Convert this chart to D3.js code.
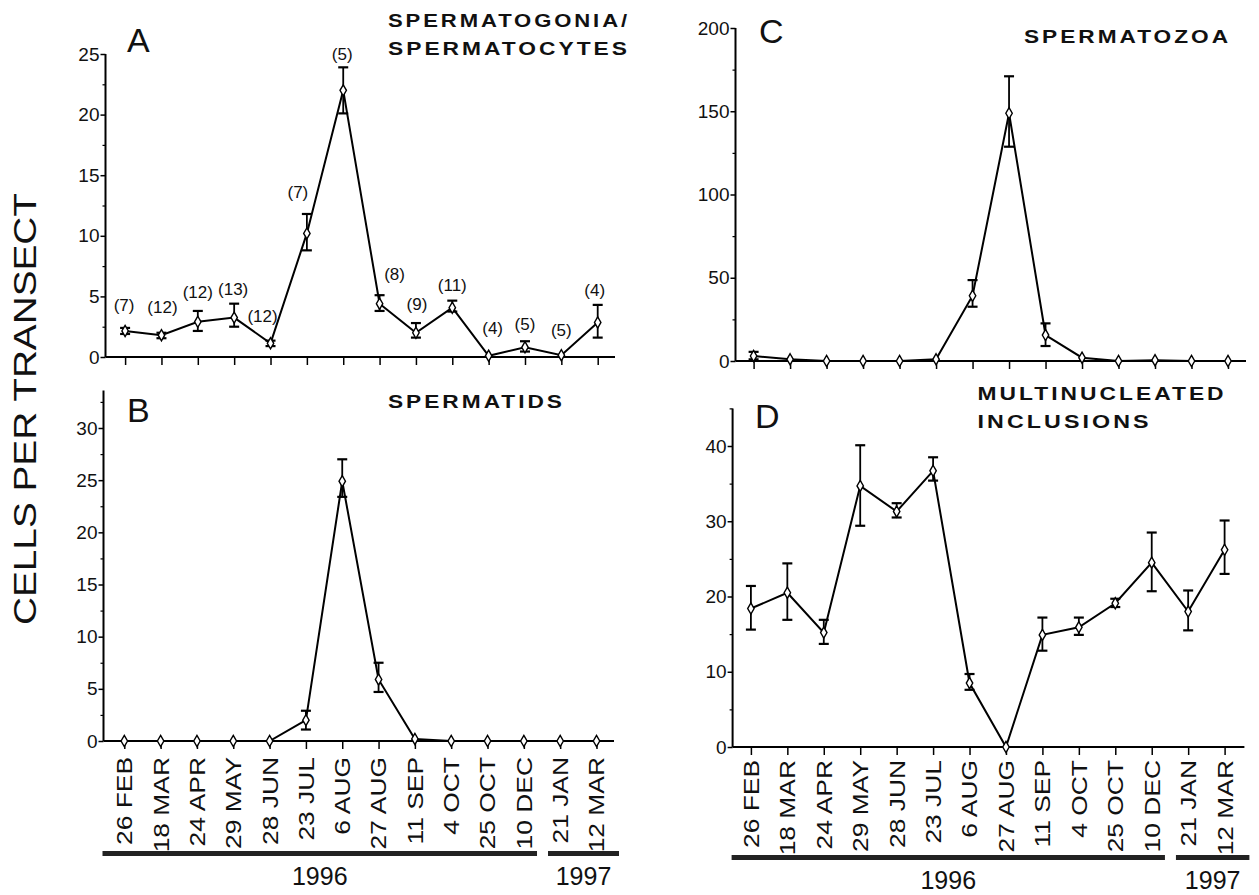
<!DOCTYPE html>
<html><head><meta charset="utf-8">
<script src="https://cdn.jsdelivr.net/npm/d3@7"></script>
<style>
html,body{margin:0;padding:0;background:#fff;}
svg{display:block;font-family:"Liberation Sans",Arial,Helvetica,sans-serif;}
</style></head>
<body>
<svg id="chart" width="1259" height="895"></svg>
<script>
// ---------- data ----------
const dates = ["26 FEB","18 MAR","24 APR","29 MAY","28 JUN","23 JUL","6 AUG","27 AUG","11 SEP","4 OCT","25 OCT","10 DEC","21 JAN","12 MAR"];
const years = ["1996","1997"];
const yearFirst = ["26 FEB","21 JAN"];
const yearLast = ["10 DEC","12 MAR"];

const aMean = [2.15,1.8,2.9,3.25,1.13,10.2,22.0,4.4,2.0,4.07,0.1,0.8,0.15,2.85];
const aHi   = [2.4,2.0,3.8,4.4,1.35,11.8,23.9,5.1,2.8,4.65,0.1,1.3,0.15,4.3];
const aLo   = [1.9,1.55,2.15,2.5,0.9,8.8,20.1,3.8,1.6,3.75,0.1,0.45,0.15,1.6];
const aN    = [7,12,12,13,12,7,5,8,9,11,4,5,5,4];

const bMean = [0,0,0,0,0,2.0,24.9,5.9,0.2,0,0,0,0,0];
const bHi   = [0,0,0,0,0,2.9,27.0,7.5,0.2,0,0,0,0,0];
const bLo   = [0,0,0,0,0,1.1,23.4,4.7,0.2,0,0,0,0,0];

const cMean = [3,1,0,0,0,1,39.2,148.8,15.6,2,0,0.5,0,0];
const cHi   = [5.5,1,0,0,0,1,48.6,171,22.6,2,0,0.5,0,0];
const cLo   = [1,1,0,0,0,1,32.6,128.7,9.0,2,0,0.5,0,0];

const dMean = [18.4,20.5,15.2,34.7,31.3,36.7,8.5,0,14.9,15.9,19.1,24.5,18.0,26.2];
const dHi   = [21.4,24.4,16.9,40.1,32.4,38.5,9.7,0,17.2,17.2,19.7,28.5,20.8,30.1];
const dLo   = [15.6,16.9,13.7,29.4,30.5,35.4,7.6,0,12.8,14.9,18.6,20.7,15.5,23.0];

const aTicks = [0,5,10,15,20,25];
const bTicks = [0,5,10,15,20,25,30];
const cTicks = [0,50,100,150,200];
const dTicks = [0,10,20,30,40];

// ---------- layout ----------
const svg = d3.select("#chart");
const F = '"Liberation Sans",Arial,Helvetica,sans-serif';

const panels = [
  {letter:"A", mean:aMean, hi:aHi, lo:aLo, ticks:aTicks, minor:2.5, top:25,
   yDom:[0,25], yRng:[357,54], xRng:[125.1,597.7], axX:105.5, axEnd:615,
   lx:127, ly:52, title:[["SPERMATOGONIA/",388,27,242],["SPERMATOCYTES",388,55,242]], dateLabels:false},
  {letter:"B", mean:bMean, hi:bHi, lo:bLo, ticks:bTicks, minor:2.5, top:33.6,
   yDom:[0,30], yRng:[741,428], xRng:[124.3,596.5], axX:103.5, axEnd:614,
   lx:127, ly:422, title:[["SPERMATIDS",388,408,177]], dateLabels:true, labTop:757, barY:851, yearY:885},
  {letter:"C", mean:cMean, hi:cHi, lo:cLo, ticks:cTicks, minor:25, top:200,
   yDom:[0,200], yRng:[361,28], xRng:[753.6,1228], axX:735.5, axEnd:1246,
   lx:759, ly:43, title:[["SPERMATOZOA",1024,43,207]], dateLabels:false},
  {letter:"D", mean:dMean, hi:dHi, lo:dLo, ticks:dTicks, minor:5, top:45,
   yDom:[0,40], yRng:[747,446], xRng:[750.9,1224.6], axX:732.6, axEnd:1244.4,
   lx:755, ly:428, title:[["MULTINUCLEATED",977.6,400,249],["INCLUSIONS",977.6,428,174]], dateLabels:true, labTop:760, barY:855, yearY:889}
];

// offsets of (n) labels relative to point in panel A
const nOff = [[-1,-26],[1,-28],[0,-30],[-1,-29],[-8,-27],[-9,-41],[-1,-36],[15,-30],[1,-29],[0,-23],[4,-28],[0,-23],[0,-25],[-3,-32]];

panels.forEach(p => {
  const x = d3.scalePoint().domain(dates).range(p.xRng);
  const y = d3.scaleLinear().domain(p.yDom).range(p.yRng);
  const g = svg.append("g");

  g.append("line").attr("x1",p.axX).attr("x2",p.axX).attr("y1",y(0)).attr("y2",y(p.top))
    .attr("stroke","#000").attr("stroke-width",2);
  g.append("line").attr("x1",p.axX).attr("x2",p.axEnd).attr("y1",y(0)).attr("y2",y(0))
    .attr("stroke","#000").attr("stroke-width",2);

  const ya = d3.axisLeft(y).tickValues(p.ticks).tickSize(5).tickPadding(1).tickFormat(d3.format("d"));
  const yg = g.append("g").attr("transform",`translate(${p.axX},0)`).call(ya);
  yg.select(".domain").remove();
  yg.selectAll("line").attr("stroke","#000").attr("stroke-width",1.5);
  yg.selectAll("text").attr("font-family",F).attr("font-size",19).attr("fill","#111");
  const minorVals = d3.range(p.minor, p.top + 0.001, p.minor*2);
  const ym = d3.axisLeft(y).tickValues(minorVals).tickSize(3).tickFormat("");
  const ymg = g.append("g").attr("transform",`translate(${p.axX},0)`).call(ym);
  ymg.select(".domain").remove();
  ymg.selectAll("line").attr("stroke","#000").attr("stroke-width",1.2);

  const xa = d3.axisBottom(x).tickSize(8).tickFormat("");
  const xg = g.append("g").attr("transform",`translate(0,${y(0)})`).call(xa);
  xg.select(".domain").remove();
  xg.selectAll("line").attr("stroke","#000").attr("stroke-width",1.5);

  const idx = d3.range(dates.length).filter(i => p.hi[i] - p.lo[i] > 0.05 * (p.yDom[1]/25));
  const eb = g.append("g").attr("stroke","#000").attr("stroke-width",1.8);
  idx.forEach(i => {
    const cx = x(dates[i]);
    eb.append("line").attr("x1",cx).attr("x2",cx).attr("y1",y(p.hi[i])).attr("y2",y(p.lo[i]));
    eb.append("line").attr("x1",cx-5).attr("x2",cx+5).attr("y1",y(p.hi[i])).attr("y2",y(p.hi[i])).attr("stroke-width",2.2);
    eb.append("line").attr("x1",cx-5).attr("x2",cx+5).attr("y1",y(p.lo[i])).attr("y2",y(p.lo[i])).attr("stroke-width",2.2);
  });

  const line = d3.line().x((d,i)=>x(dates[i])).y(d=>y(d));
  g.append("path").datum(p.mean).attr("d",line).attr("fill","none")
    .attr("stroke","#000").attr("stroke-width",2);

  g.selectAll("path.m").data(p.mean).join("path").attr("class","m")
    .attr("d", d3.symbol(d3.symbolDiamond).size(36))
    .attr("transform",(d,i)=>`translate(${x(dates[i])},${y(d)})`)
    .attr("fill","#fff").attr("stroke","#000").attr("stroke-width",1.4);

  g.append("text").attr("x",p.lx).attr("y",p.ly).text(p.letter)
    .attr("font-family",F).attr("font-size",34).attr("fill","#111");
  p.title.forEach(t => {
    g.append("text").attr("x",t[1]).attr("y",t[2]).text(t[0])
      .attr("font-family",F).attr("font-weight","bold").attr("font-size",19)
      .attr("letter-spacing",2.5)
      .attr("textLength",t[3]).attr("lengthAdjust","spacingAndGlyphs").attr("fill","#111");
  });

  if (p.letter === "A") {
    g.selectAll("text.n").data(aN).join("text").attr("class","n")
      .attr("x",(d,i)=>x(dates[i]) + nOff[i][0])
      .attr("y",(d,i)=>y(p.mean[i]) + nOff[i][1] + 6)
      .attr("text-anchor","middle").attr("font-family",F).attr("font-size",17).attr("fill","#111")
      .text(d=>`(${d})`);
  }

  if (p.dateLabels) {
    g.selectAll("text.dl").data(dates).join("text").attr("class","dl")
      .attr("transform",d=>`translate(${x(d)},${p.labTop}) rotate(-90) scale(1.2,1)`)
      .attr("text-anchor","end").attr("dy","0.36em")
      .attr("font-family",F).attr("font-size",22).attr("fill","#111").text(d=>d);
    const step = x.step();
    years.forEach((yr,k) => {
      const x0 = k === 0 ? p.axX - 1 : x(yearFirst[k]) - step/2 + 6;
      const x1 = k === years.length-1 ? p.axEnd + 5 : x(yearLast[k]) + step/2 - 5;
      g.append("rect").attr("x",x0).attr("y",p.barY).attr("width",x1-x0).attr("height",5).attr("fill","#222");
      g.append("text").attr("x",(x0+x1)/2).attr("y",p.yearY).attr("text-anchor","middle")
        .attr("font-family",F).attr("font-size",25).attr("fill","#111").text(yr);
    });
  }
});

svg.append("text").attr("transform","translate(25,409) rotate(-90)")
  .attr("text-anchor","middle").attr("dy","0.36em")
  .attr("font-family",F).attr("font-size",31).attr("fill","#111")
  .attr("textLength",432).attr("lengthAdjust","spacingAndGlyphs")
  .text("CELLS PER TRANSECT");
</script>
</body></html>
